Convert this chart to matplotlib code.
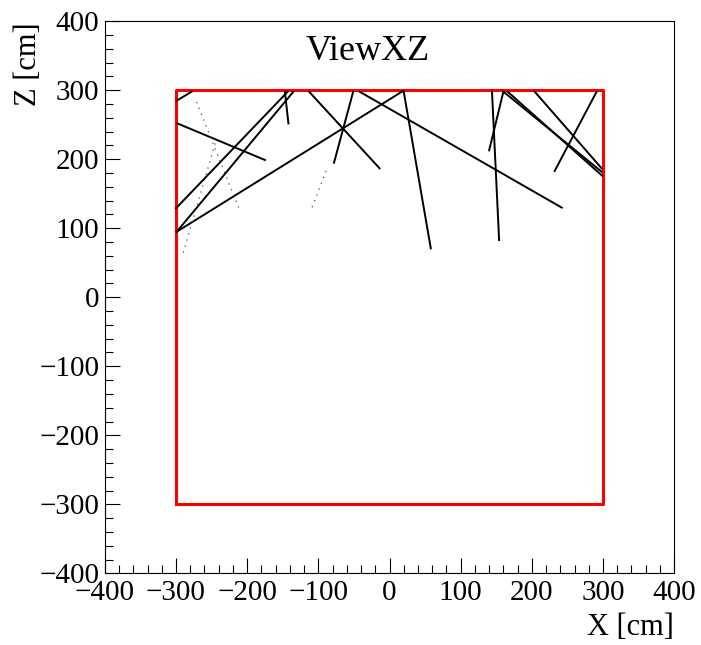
import matplotlib
matplotlib.use("Agg")
import matplotlib.pyplot as plt
from matplotlib.ticker import MultipleLocator

# reconstructed tracks in the XZ view: start (x0, z0) -> end (x1, z1), cm
trk_x0 = [-299, -298, -300, -299, -299, -147, -113, -51, -42, 20, 144, 160, 160, 166, 204, 291]
trk_z0 = [285, 252, 129, 95, 95, 298, 298, 298, 298, 298, 298, 298, 298, 298, 298, 298]
trk_x1 = [-278, -175, -143, -135, 19, -142, -14, -78, 242, 58, 154, 140, 298, 299, 298, 232]
trk_z1 = [298, 199, 298, 298, 299, 252, 187, 195, 130, 71, 83, 213, 182, 176, 187, 183]

# faint (few hits) tracks
faint_x0 = [-271, -245, -89]
faint_z0 = [283, 223, 183]
faint_x1 = [-212, -290, -109]
faint_z1 = [130, 64, 130]

# detector outline
box_x = [-300, 300, 300, -300, -300]
box_z = [-300, -300, 300, 300, -300]

plt.rcParams['font.family'] = ['Liberation Serif', 'DejaVu Serif']

fig = plt.figure(figsize=(7.01, 6.45), dpi=100)
ax = fig.add_axes([104.8/701, 1 - 573.3/645, 569.4/701, 552.0/645])

ax.plot(box_x, box_z, color='red', lw=2.2, zorder=2)

for i in range(len(trk_x0)):
  ax.plot([trk_x0[i], trk_x1[i]], [trk_z0[i], trk_z1[i]], color='black', lw=1.4, zorder=3)

for i in range(len(faint_x0)):
  ax.plot([faint_x0[i], faint_x1[i]], [faint_z0[i], faint_z1[i]], color='0.3',
          lw=0.9, ls=(0, (1, 4)), zorder=3)

ax.set_xlim(-400, 400)
ax.set_ylim(-400, 400)
ax.xaxis.set_major_locator(MultipleLocator(100))
ax.yaxis.set_major_locator(MultipleLocator(100))
ax.xaxis.set_minor_locator(MultipleLocator(20))
ax.yaxis.set_minor_locator(MultipleLocator(20))
ax.tick_params(which='both', direction='in', top=False, right=False, width=0.8, labelsize=21)
ax.tick_params(which='major', length=11)
ax.tick_params(which='minor', length=5.5)
ax.tick_params(axis='x', pad=5)
ax.tick_params(axis='y', pad=4)
for s in ax.spines.values():
  s.set_linewidth(0.8)

fig.text(368/701, 1 - 52/645, 'ViewXZ', fontsize=26, ha='center', va='center')
fig.text(674/701, 1 - 635/645, 'X [cm]', fontsize=22, ha='right', va='baseline')
fig.text(28/701, 1 - 22/645, 'Z [cm]', fontsize=22, ha='center', va='top', rotation=90)

fig.savefig('out.png', dpi=100)
